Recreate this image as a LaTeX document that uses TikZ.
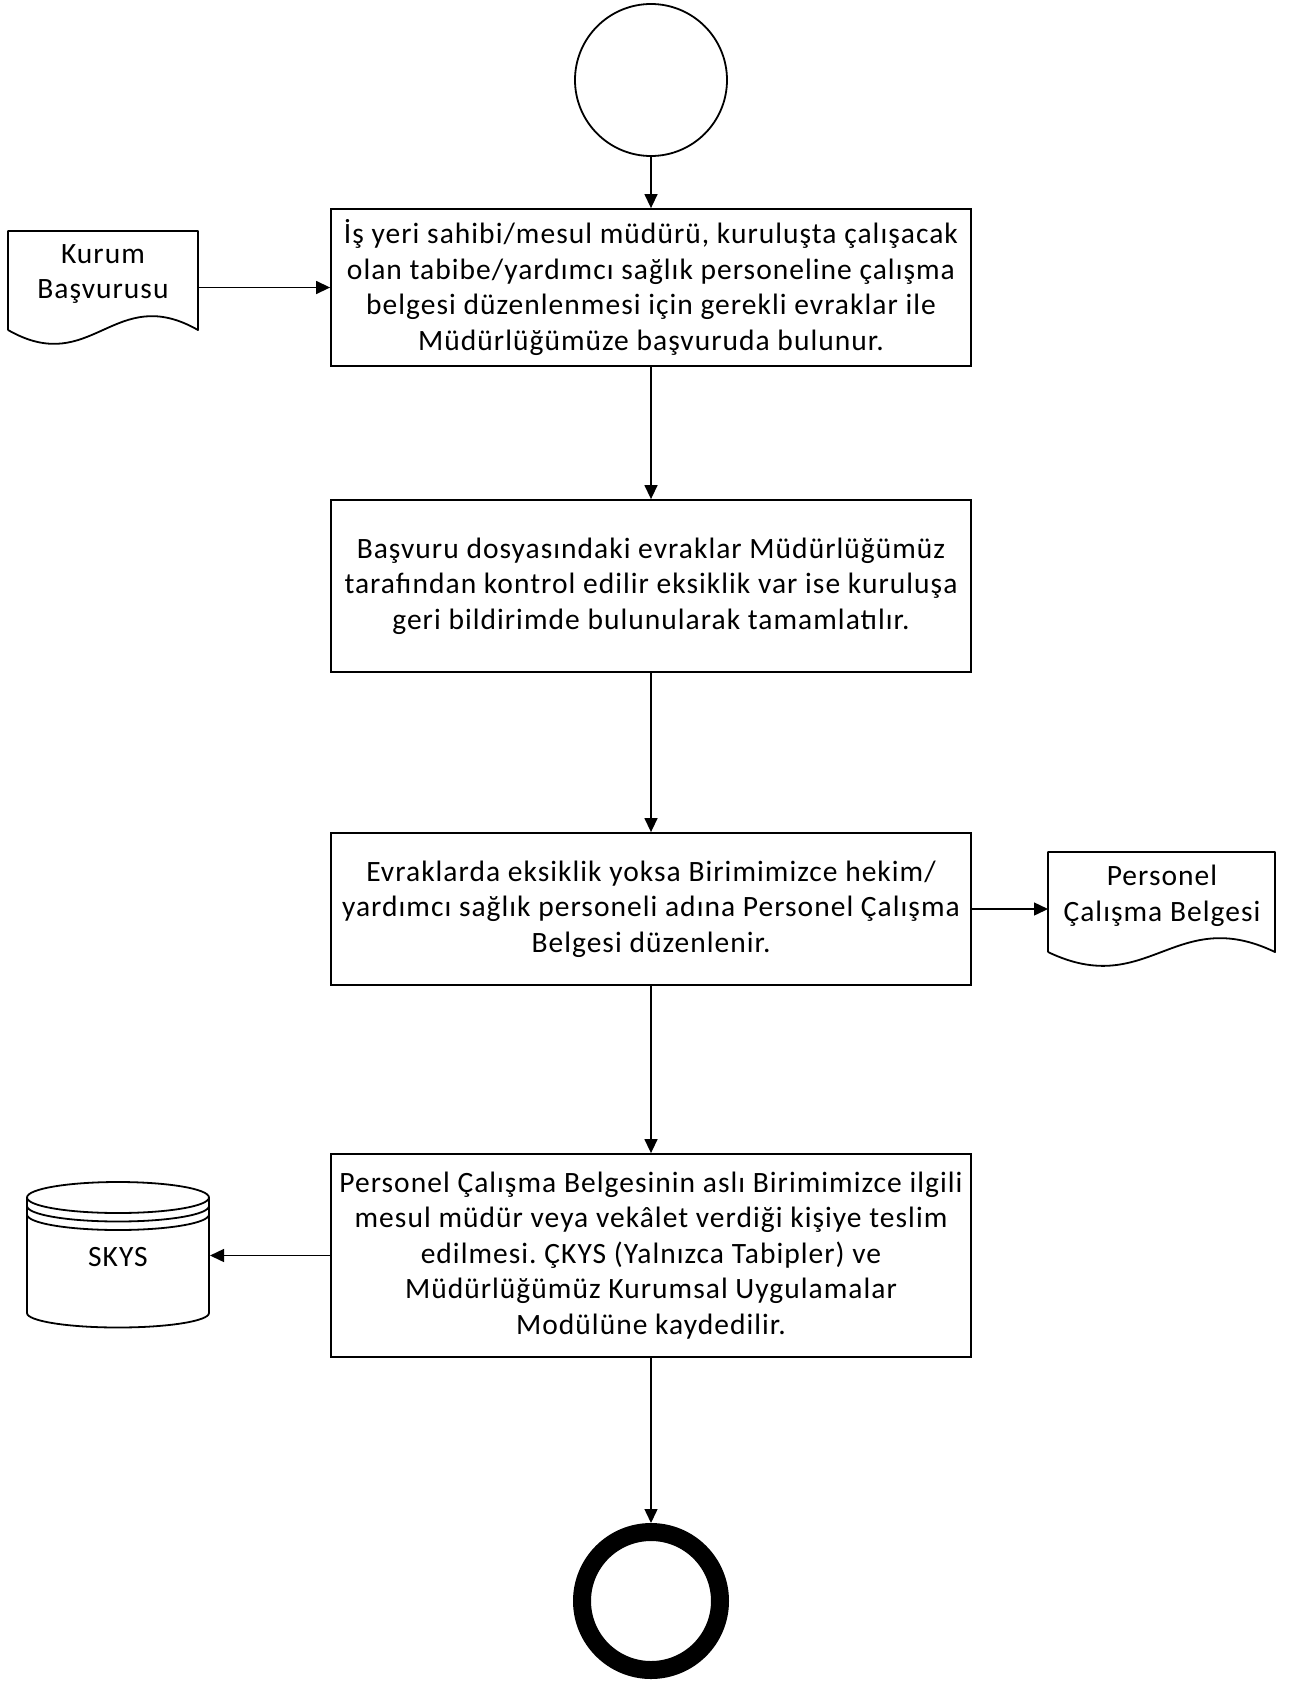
\documentclass[tikz,border=0pt]{standalone}
\usepackage{fontspec}
\setmainfont{Carlito}[LetterSpace=3.5]
\usetikzlibrary{arrows.meta,calc}
\frenchspacing
\begin{document}
\begin{tikzpicture}[x=1pt,y=-1pt,
  txt/.style={font=\fontsize{29.5}{35.5}\selectfont, align=center, inner sep=0pt},
  proc/.style={txt, draw, line width=1.8pt, minimum width=640pt},
  frame/.style={inner sep=0pt, outer sep=0pt},
  shp/.style={line width=1.8pt, line join=round},
  conn/.style={line width=1.4pt, -{Triangle[length=14pt,width=13pt]}}]
\useasboundingbox (0,0) rectangle (1300,1684);

% start / end
\node[draw, circle, line width=1.8pt, minimum size=152pt, inner sep=0pt] (start) at (651,80) {};
\node[draw, circle, line width=18pt, minimum size=138pt, inner sep=0pt] (stop) at (651,1601) {};

% process boxes
\node[proc, minimum height=157pt] (b1) at (651,287.5) {İş yeri sahibi/mesul müdürü, kuruluşta çalışacak\\ olan tabibe/yardımcı sağlık personeline çalışma\\ belgesi düzenlenmesi için gerekli evraklar ile\\ Müdürlüğümüze başvuruda bulunur.};
\node[proc, minimum height=172pt] (b2) at (651,586) {Başvuru dosyasındaki evraklar Müdürlüğümüz\\ tarafından kontrol edilir eksiklik var ise kuruluşa\\ geri bildirimde bulunularak tamamlatılır.};
\node[proc, minimum height=152pt] (b3) at (651,909) {Evraklarda eksiklik yoksa Birimimizce hekim/\\ yardımcı sağlık personeli adına Personel Çalışma\\ Belgesi düzenlenir.};
\node[proc, minimum height=203pt] (b4) at (651,1255.5) {Personel Çalışma Belgesinin aslı Birimimizce ilgili\\ mesul müdür veya vekâlet verdiği kişiye teslim\\ edilmesi. ÇKYS (Yalnızca Tabipler) ve\\ Müdürlüğümüz Kurumsal Uygulamalar\\ Modülüne kaydedilir.};

% document: Kurum Başvurusu
\node[frame, minimum width=190pt, minimum height=99pt] (kurum) at (103,280.5) {};
\draw[shp] (kurum.south west) -- (kurum.north west) -- (kurum.north east) -- (kurum.south east)
  .. controls ($(kurum.south east)+(-84,-48)$) and ($(kurum.south west)+(84,48)$) .. (kurum.south west);
\node[txt] (kurumt) at (103,274) {Kurum\\Başvurusu};

% document: Personel Çalışma Belgesi
\node[frame, minimum width=227pt, minimum height=100pt] (pers) at (1161.5,902) {};
\draw[shp] (pers.south west) -- (pers.north west) -- (pers.north east) -- (pers.south east)
  .. controls ($(pers.south east)+(-100,-48)$) and ($(pers.south west)+(100,48)$) .. (pers.south west);
\node[txt] (perst) at (1162,896) {Personel\\Çalışma Belgesi};

% database: SKYS
\draw[shp] (27,1197.5) -- (27,1313) arc[start angle=180, end angle=360, x radius=91pt, y radius=14.5pt] -- (209,1197.5);
\draw[shp] (118,1197.5) ellipse [x radius=91pt, y radius=15.5pt];
\draw[shp] (27,1206) arc[start angle=180, end angle=360, x radius=91pt, y radius=15.5pt];
\draw[shp] (27,1214.5) arc[start angle=180, end angle=360, x radius=91pt, y radius=15.5pt];
\node[txt, minimum width=182pt, outer sep=1pt] (skys) at (118,1257) {SKYS};

% connectors
\draw[conn] (start) -- (b1);
\draw[conn] (b1) -- (b2);
\draw[conn] (b2) -- (b3);
\draw[conn] (b3) -- (b4);
\draw[conn] (b4) -- (stop);
\draw[conn] (kurum.east |- b1.west) -- (b1.west);
\draw[conn] (b3.east) -- (b3.east -| pers.west);
\draw[conn] (b4.west) -- (b4.west -| skys.east);
\end{tikzpicture}
\end{document}
